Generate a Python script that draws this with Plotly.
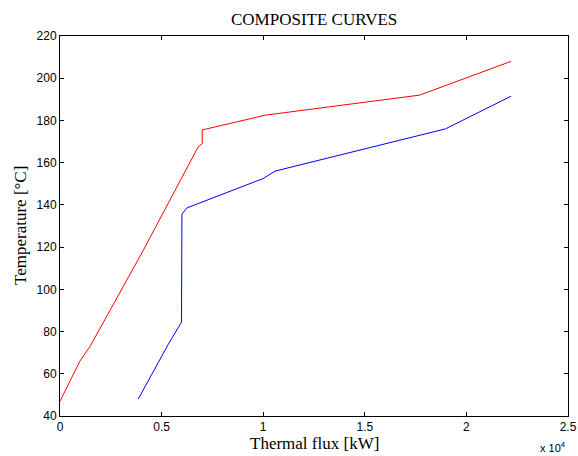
import plotly.graph_objects as go

hot_x = [0, 980, 1480, 3030, 4100, 6800, 7000, 7000, 10100, 17700, 22200]
hot_t = [47, 66, 73, 100, 118.5, 167.5, 169, 175.5, 182.5, 192, 208]

cold_x = [3850, 5330, 5980, 5980, 6000, 6230, 10000, 10580, 18970, 22200]
cold_t = [48, 74, 84.5, 133.5, 135.5, 138.5, 152.5, 156, 176, 191.5]

x_tickvals = [0, 5000, 10000, 15000, 20000, 25000]
x_ticktext = ["0", "0.5", "1", "1.5", "2", "2.5"]
y_tickvals = [40, 60, 80, 100, 120, 140, 160, 180, 200, 220]

fig = go.Figure()
fig.add_trace(go.Scatter(x=hot_x, y=hot_t, mode="lines",
                         line=dict(color="#ff0000", width=1), showlegend=False))
fig.add_trace(go.Scatter(x=cold_x, y=cold_t, mode="lines",
                         line=dict(color="#0000ff", width=1), showlegend=False))

axis_common = dict(showline=True, linecolor="black", linewidth=1, mirror="ticks",
                   ticks="inside", ticklen=4, tickcolor="black", showgrid=False,
                   zeroline=False, automargin=False, ticklabeloverflow="allow",
                   tickfont=dict(family="Liberation Sans, Arial", size=12, color="black"))

fig.update_xaxes(range=[0, 25000], tickvals=x_tickvals, ticktext=x_ticktext, **axis_common)
fig.update_yaxes(range=[40, 220], tickvals=y_tickvals, **axis_common)

serif = dict(family="Liberation Serif, Times New Roman", size=17, color="black")

fig.update_layout(
    width=578, height=456,
    margin=dict(l=60, r=10, t=36, b=40, autoexpand=False),
    plot_bgcolor="white", paper_bgcolor="white",
    annotations=[
        dict(text="COMPOSITE CURVES", xref="paper", yref="paper", x=0.5, y=1.0,
             yshift=17, xanchor="center", yanchor="middle", showarrow=False, font=serif),
        dict(text="Thermal flux [kW]", xref="paper", yref="paper", x=0.5, y=0.0,
             yshift=-27, xanchor="center", yanchor="middle", showarrow=False, font=serif),
        dict(text="Temperature [°C]", xref="paper", yref="paper", x=0.0, y=0.5,
             xshift=-40, xanchor="center", yanchor="middle", textangle=-90,
             showarrow=False, font=serif),
        dict(text="x 10<sup>4</sup>", xref="paper", yref="paper", x=1.0, y=0.0,
             yshift=-31, xanchor="right", yanchor="middle", showarrow=False,
             font=dict(family="Liberation Sans, Arial", size=11, color="black")),
    ],
)

fig.write_html("out.html", config={"displayModeBar": False},
               post_script="document.body.style.margin='0';document.body.style.overflow='hidden';")
